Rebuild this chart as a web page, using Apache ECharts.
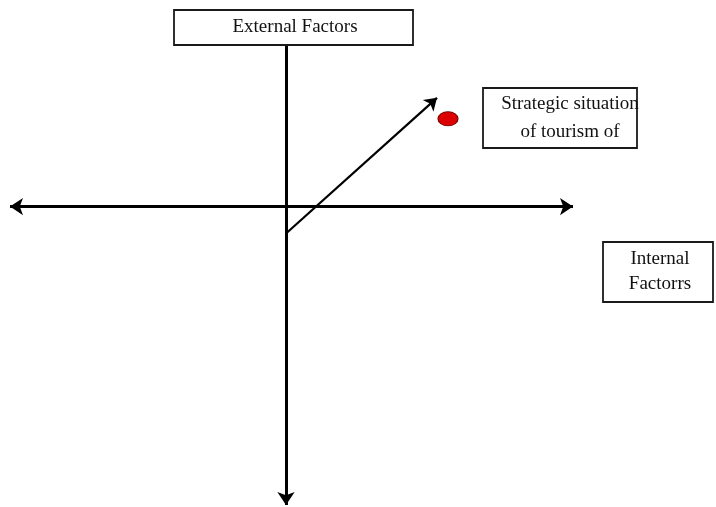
<!DOCTYPE html>
<html>
<head>
<meta charset="utf-8">
<script src="https://cdn.jsdelivr.net/npm/echarts@6/dist/echarts.min.js"></script>
<style>
html,body{margin:0;padding:0;background:#fff;}
#chart{width:716px;height:507px;}
</style>
</head>
<body>
<div id="chart"></div>
<script>
// Coordinates in abstract units, origin at the axes crossing (1 unit ~ 10 px)
const xRange = [-28.6, 43.0];
const yRange = [-30.1, 20.7];
const horizontalAxisLine = [[-27.6, 0], [28.7, 0]];   // "Internal Factors" axis
const verticalAxisLine = [[0, 16.1], [0, -29.9]];     // "External Factors" axis
const directionArrow = [[0, -2.7], [15.1, 10.9]];     // strategic movement vector
const situationPoint = [[16.2, 8.8]];                 // strategic situation marker
const labelExternal = 'External Factors';
const labelStrategic = ['Strategic situation', 'of tourism of'];
const labelInternal = ['Internal', 'Factorrs'];

const chart = echarts.init(document.getElementById('chart'), null, {renderer: 'canvas'});
const font = '"Liberation Serif", "DejaVu Serif", serif';

function lineSeries(coords, symbols, width, size) {
  return {
    type: 'lines',
    coordinateSystem: 'cartesian2d',
    symbol: symbols,
    symbolSize: size,
    silent: true,
    lineStyle: {color: '#000', width: width, opacity: 1, curveness: 0},
    data: [{coords: coords}],
    z: 3
  };
}

function box(x, y, w, h, lines, cx, lh) {
  const children = [{
    type: 'rect',
    shape: {x: x, y: y, width: w, height: h},
    style: {fill: '#fff', stroke: '#1a1a1a', lineWidth: 1.8}
  }];
  const total = lines.length * lh;
  lines.forEach((t, i) => {
    children.push({
      type: 'text',
      style: {
        text: t, x: cx, y: y + h / 2 - total / 2 + lh * (i + 0.5),
        align: 'center', verticalAlign: 'middle',
        font: '19px ' + font, fill: '#111'
      }
    });
  });
  return {type: 'group', children: children, z: 10};
}

chart.setOption({
  animation: false,
  backgroundColor: '#fff',
  grid: {left: 0, right: 0, top: 0, bottom: 0},
  xAxis: {type: 'value', min: xRange[0], max: xRange[1], show: false},
  yAxis: {type: 'value', min: yRange[0], max: yRange[1], show: false},
  series: [
    lineSeries(horizontalAxisLine, ['arrow', 'arrow'], 3, 13),
    lineSeries(verticalAxisLine, ['none', 'arrow'], 3, 13),
    lineSeries(directionArrow, ['none', 'arrow'], 2.2, 12),
    {
      type: 'scatter',
      data: situationPoint,
      symbol: 'circle',
      symbolSize: [20, 14],
      itemStyle: {color: '#dd0000', borderColor: '#7a0000', borderWidth: 1, opacity: 1},
      z: 4
    }
  ],
  graphic: [
    box(174, 10, 239, 35, [labelExternal], 295, 26),
    box(483, 88, 154, 60, labelStrategic, 570, 28),
    box(603, 242, 110, 60, labelInternal, 660, 25)
  ]
});
</script>
</body>
</html>
